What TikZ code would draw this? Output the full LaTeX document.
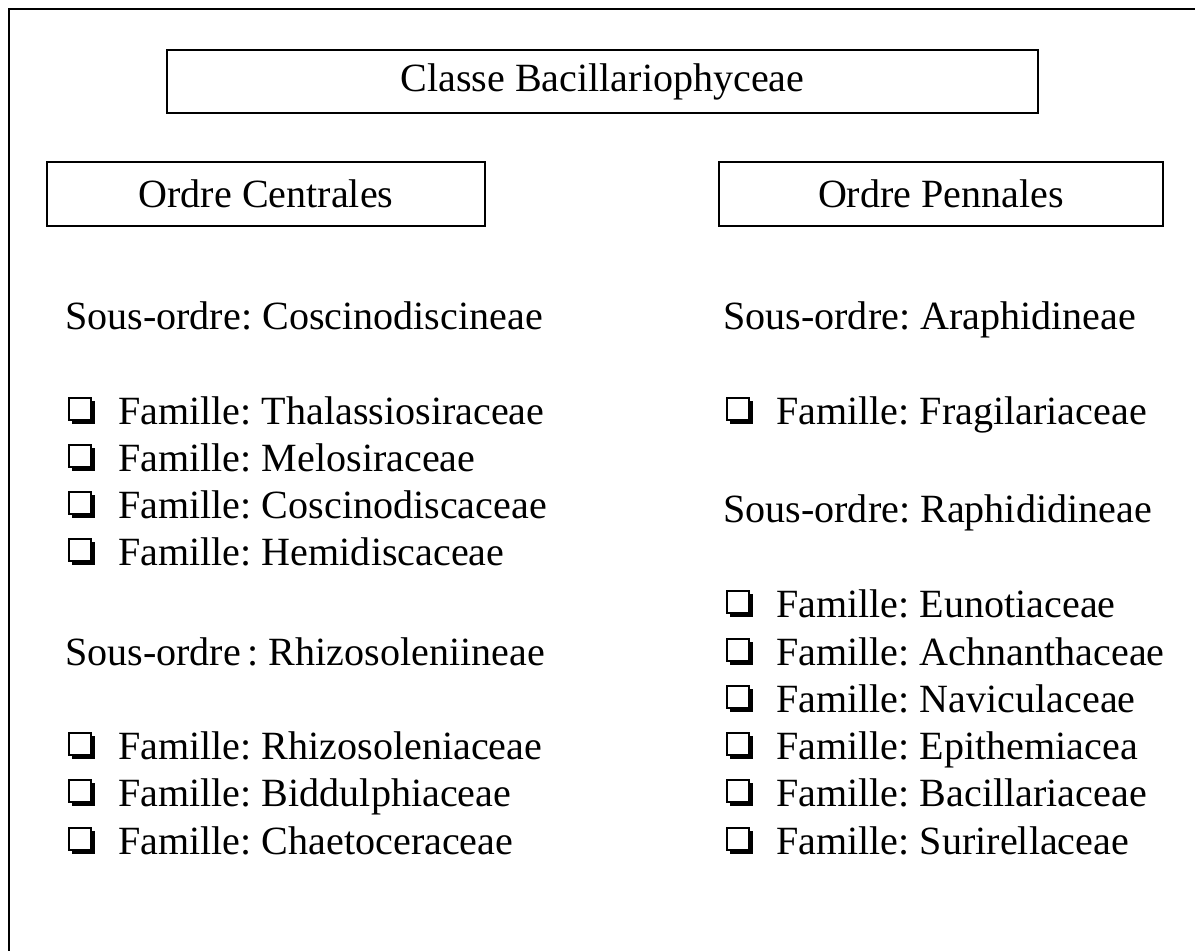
\documentclass[tikz,border=0pt]{standalone}
\usepackage{fontspec}
\setmainfont{Liberation Serif}
\usetikzlibrary{positioning}
\frenchspacing

\begin{document}
\begin{tikzpicture}[x=0.025cm,y=-0.025cm,font=\fontsize{28.5}{32}\selectfont,
    rangbox/.style={draw,line width=1.8pt,inner sep=0pt},
    item/.style={anchor=base west,inner sep=0pt}]
  \useasboundingbox (0,0) rectangle (1195,951);
  \newcommand{\famille}[4]{%
    \fill (#2+4,#3-23) rectangle (#2+27,#3);
    \draw[fill=white,line width=1.4pt] (#2+1,#3-26) rectangle (#2+23,#3-4);
    \node[item] (#1) at (#2+50,#3) {Famille: #4};}
  % Outer frame, cut off at the right and bottom.
  \draw[line width=2pt] (9,951) -- (9,9) -- (1195,9);
  % Class and the two orders.
  \node[rangbox,minimum width=21.775cm,minimum height=1.575cm] (classe) at (602.5,81.5) {Classe Bacillariophyceae};
  \node[rangbox,minimum width=10.95cm,minimum height=1.6cm] (centrales) at (266,194) {Ordre Centrales};
  \node[rangbox,minimum width=11.1cm,minimum height=1.6cm] (pennales) at (941,194) {Ordre Pennales};
  % Centrales: sub-orders and families.
  \node[item] (coscino) at (65,329) {Sous-ordre: Coscinodiscineae};
  \famille{thalass}{68}{424}{Thalassiosiraceae}
  \famille{melosi}{68}{471}{Melosiraceae}
  \famille{coscinf}{68}{518}{Coscinodiscaceae}
  \famille{hemidis}{68}{565}{Hemidiscaceae}
  \node[item] (rhizo) at (65,665) {Sous-ordre\,: Rhizosoleniineae};
  \famille{rhizof}{68}{759}{Rhizosoleniaceae}
  \famille{biddul}{68}{806}{Biddulphiaceae}
  \famille{chaeto}{68}{854}{Chaetoceraceae}
  % Pennales: sub-orders and families.
  \node[item] (araphi) at (723,329) {Sous-ordre: Araphidineae};
  \famille{fragil}{726}{424}{Fragilariaceae}
  \node[item] (raphi) at (723,522) {Sous-ordre: Raphididineae};
  \famille{eunoti}{726}{617}{Eunotiaceae}
  \famille{achnan}{726}{665}{Achnanthaceae}
  \famille{navicu}{726}{712}{Naviculaceae}
  \famille{epithe}{726}{759}{Epithemiacea}
  \famille{bacill}{726}{806}{Bacillariaceae}
  \famille{surire}{726}{854}{Surirellaceae}
\end{tikzpicture}
\end{document}
